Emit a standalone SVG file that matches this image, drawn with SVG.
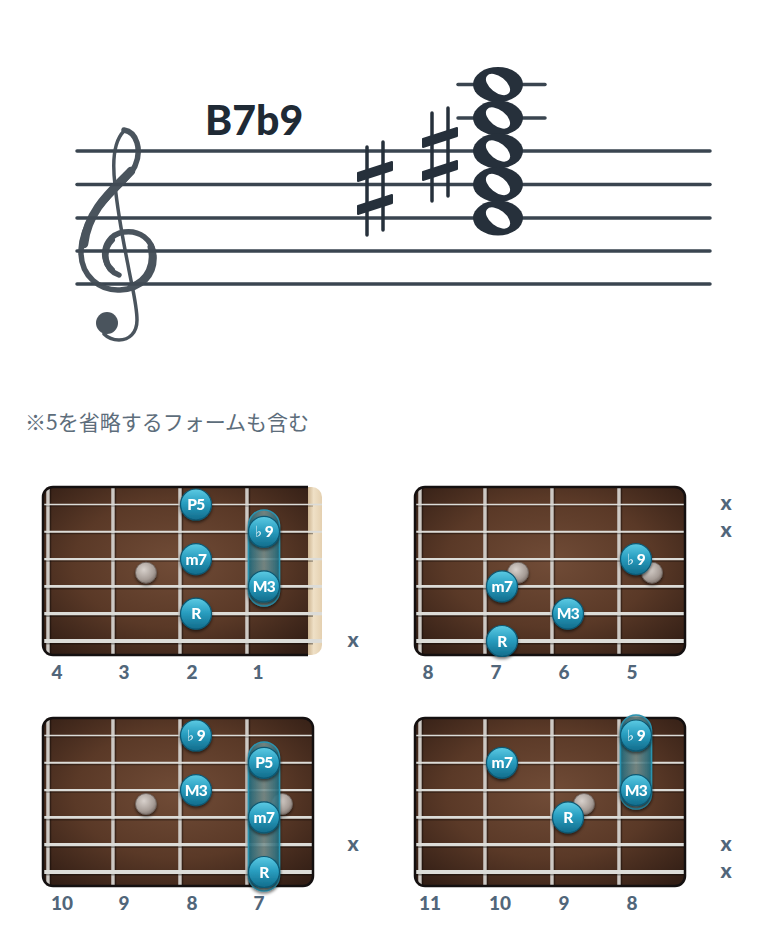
<svg xmlns="http://www.w3.org/2000/svg" width="780" height="952" viewBox="0 0 780 952">
<style>
.staff line{stroke:#3a4550;stroke-width:3.5;stroke-linecap:round}
.ink{fill:#26303b}
.clef{fill:none;stroke:#414b55;stroke-linecap:round}
.lbl{font-family:Lato,'DejaVu Sans',sans-serif;font-weight:900;font-size:19px;fill:#51667a;text-anchor:middle}
.mx{font-family:Lato,'DejaVu Sans',sans-serif;font-weight:900;font-size:21px;fill:#51667a;text-anchor:middle}
.nt{font-family:Lato,'DejaVu Sans',sans-serif;font-weight:900;font-size:15.5px;letter-spacing:-0.5px;fill:#fff;text-anchor:middle}
.fl{font-family:'DejaVu Sans',sans-serif;font-weight:normal;font-size:15px}
.fret{stroke:#cdc9c4;stroke-width:3.5}
.fsh{stroke:#000;stroke-opacity:.35;stroke-width:1.5}
.str{stroke:#dcdcd8}
.ssh{stroke:#000;stroke-opacity:.35}
.frame{fill:none;stroke:#141010;stroke-width:2.5}
.cap{fill:url(#capg);stroke:#2b93b0;stroke-width:1.5;filter:url(#sh)}
</style>
<defs>
<radialGradient id="wood" cx="50%" cy="45%" r="70%">
<stop offset="0" stop-color="#714c37"/>
<stop offset="0.55" stop-color="#5a3927"/>
<stop offset="1" stop-color="#321e15"/>
</radialGradient>
<linearGradient id="nut" x1="0" y1="0" x2="1" y2="0">
<stop offset="0" stop-color="#cdb592"/>
<stop offset="0.4" stop-color="#efe0c6"/>
<stop offset="1" stop-color="#e4d0b0"/>
</linearGradient>
<linearGradient id="ng" x1="0" y1="0" x2="0" y2="1">
<stop offset="0" stop-color="#5ccae3"/>
<stop offset="0.45" stop-color="#2a9fc1"/>
<stop offset="1" stop-color="#126c8b"/>
</linearGradient>
<radialGradient id="gg" cx="40%" cy="35%" r="70%">
<stop offset="0" stop-color="#d8d1cc"/>
<stop offset="0.7" stop-color="#a69c96"/>
<stop offset="1" stop-color="#7a6f69"/>
</radialGradient>
<linearGradient id="capg" x1="0" y1="0" x2="1" y2="0">
<stop offset="0" stop-color="#1f6a7d" stop-opacity="0.9"/>
<stop offset="0.5" stop-color="#7f9896" stop-opacity="0.75"/>
<stop offset="1" stop-color="#1f6a7d" stop-opacity="0.9"/>
</linearGradient>
<filter id="sh" x="-40%" y="-30%" width="180%" height="170%">
<feDropShadow dx="0" dy="2" stdDeviation="1.5" flood-color="#000" flood-opacity="0.55"/>
</filter>
<circle id="dot" r="15.5" fill="url(#ng)" stroke="#0c5873" stroke-width="1.2"/>
<circle id="inl" r="10.5" fill="url(#gg)" stroke="#6f6560" stroke-width="0.8"/>
<g id="frets">
<line class="fret" x1="5" y1="0" x2="5" y2="168"/>
<line class="fret" x1="70" y1="0" x2="70" y2="168"/>
<line class="fret" x1="137" y1="0" x2="137" y2="168"/>
<line class="fret" x1="204" y1="0" x2="204" y2="168"/>
<line class="fsh" x1="7.5" y1="0" x2="7.5" y2="168"/>
<line class="fsh" x1="72.5" y1="0" x2="72.5" y2="168"/>
<line class="fsh" x1="139.5" y1="0" x2="139.5" y2="168"/>
<line class="fsh" x1="206.5" y1="0" x2="206.5" y2="168"/>
</g>
<g id="strings270">
<g class="ssh">
<line x1="0" y1="19" x2="270" y2="19" stroke-width="1.2"/>
<line x1="0" y1="46.5" x2="270" y2="46.5" stroke-width="1.4"/>
<line x1="0" y1="74" x2="270" y2="74" stroke-width="1.6"/>
<line x1="0" y1="101.5" x2="270" y2="101.5" stroke-width="1.8"/>
<line x1="0" y1="129" x2="270" y2="129" stroke-width="2"/>
<line x1="0" y1="156.5" x2="270" y2="156.5" stroke-width="2.2"/>
</g>
<g class="str">
<line x1="0" y1="17.5" x2="270" y2="17.5" stroke-width="1.7"/>
<line x1="0" y1="44.8" x2="270" y2="44.8" stroke-width="2"/>
<line x1="0" y1="72.1" x2="270" y2="72.1" stroke-width="2.4"/>
<line x1="0" y1="99.4" x2="270" y2="99.4" stroke-width="2.9"/>
<line x1="0" y1="126.7" x2="270" y2="126.7" stroke-width="3.3"/>
<line x1="0" y1="154" x2="270" y2="154" stroke-width="3.8"/>
</g>
</g>
<g id="board">
<rect width="270" height="168" rx="10" fill="url(#wood)"/>
<use href="#frets"/>
<use href="#strings270"/>
<rect class="frame" width="270" height="168" rx="10"/>
</g>
</defs>

<rect width="780" height="952" fill="#ffffff"/>

<g id="staff" class="staff">
<line x1="77" y1="151" x2="710" y2="151"/>
<line x1="77" y1="184.5" x2="710" y2="184.5"/>
<line x1="77" y1="218" x2="710" y2="218"/>
<line x1="77" y1="251" x2="710" y2="251"/>
<line x1="77" y1="284" x2="710" y2="284"/>
<line x1="458" y1="84.5" x2="545" y2="84.5"/>
<line x1="458" y1="118" x2="545" y2="118"/>
</g>

<g id="clef" opacity="0.95">
<path class="clef" stroke-width="3.5" d="M124,131 C114,141 112,160 115,185 C118,215 124,245 128,265 C132,287 137,305 137,320 C137,333 129,340 119,340 C113,340 108,338 104,334"/>
<path class="clef" stroke-width="5.5" d="M124,130 C137,132 142,150 135,166 C125,187 83,208 81,250 C80,277 101,291 120,290 C142,289 155,275 154,256 C153,239 139,230 124,232 C110,234 103,246 105,258 C107,268 113,273 119,275"/>
<path class="clef" stroke-width="8.5" d="M131,171 C113,190 88,209 84,244"/>
<path class="clef" stroke-width="7" d="M151,247 C155,264 149,280 131,287"/>
<path class="clef" stroke-width="6" d="M112,240 C103,249 104,263 112,270"/>
<circle cx="107" cy="323" r="11" fill="#414b55"/>
</g>

<g id="sharps" class="ink">
<g id="sharp-1">
<line x1="367" y1="147" x2="367" y2="235" stroke="#26303b" stroke-width="3.5" stroke-linecap="round"/>
<line x1="383" y1="142" x2="383" y2="230" stroke="#26303b" stroke-width="3.5" stroke-linecap="round"/>
<polygon points="358,173 392,162 392,170 358,181" stroke="#26303b" stroke-width="2" stroke-linejoin="round"/>
<polygon points="358,206 392,195 392,203 358,214" stroke="#26303b" stroke-width="2" stroke-linejoin="round"/>
</g>
<g id="sharp-2" transform="translate(65,-34)">
<line x1="367" y1="147" x2="367" y2="235" stroke="#26303b" stroke-width="3.5" stroke-linecap="round"/>
<line x1="383" y1="142" x2="383" y2="230" stroke="#26303b" stroke-width="3.5" stroke-linecap="round"/>
<polygon points="358,173 392,162 392,170 358,181" stroke="#26303b" stroke-width="2" stroke-linejoin="round"/>
<polygon points="358,206 392,195 392,203 358,214" stroke="#26303b" stroke-width="2" stroke-linejoin="round"/>
</g>
</g>

<g id="chord-notes">
<g class="ink">
<ellipse cx="498" cy="84.5" rx="25" ry="17.5"/>
<ellipse cx="498" cy="118" rx="25" ry="17.5"/>
<ellipse cx="498" cy="151" rx="25" ry="17.5"/>
<ellipse cx="498" cy="184.5" rx="25" ry="17.5"/>
<ellipse cx="498" cy="218" rx="25" ry="17.5"/>
</g>
<g fill="#ffffff">
<ellipse cx="0" cy="0" rx="8" ry="14" transform="translate(498,84.5) rotate(-52)"/>
<ellipse cx="0" cy="0" rx="8" ry="14" transform="translate(498,118) rotate(-52)"/>
<ellipse cx="0" cy="0" rx="8" ry="14" transform="translate(498,151) rotate(-52)"/>
<ellipse cx="0" cy="0" rx="8" ry="14" transform="translate(498,184.5) rotate(-52)"/>
<ellipse cx="0" cy="0" rx="8" ry="14" transform="translate(498,218) rotate(-52)"/>
</g>
</g>

<g id="chord-name">
<text x="205" y="135" font-family="Lato,'DejaVu Sans',sans-serif" font-weight="900" font-size="41" fill="#1f2a35">B7b9</text>
</g>

<g id="caption">
<text x="25" y="430" font-family="'Noto Sans CJK JP',sans-serif" font-size="21" fill="#5d6d7b">※5を省略するフォームも含む</text>
</g>

<!-- Board 1 -->
<g id="board-1" transform="translate(43,487)">
<path d="M10,0 H265 V168 H10 A10,10 0 0 1 0,158 V10 A10,10 0 0 1 10,0 Z" fill="url(#wood)"/>
<path d="M265,0 H269 A10,10 0 0 1 279,10 V158 A10,10 0 0 1 269,168 H265 Z" fill="url(#nut)"/>
<use href="#frets"/>
<use href="#strings270"/>
<line x1="270" y1="17.5" x2="279" y2="17.5" class="str" stroke-width="1.7"/>
<line x1="270" y1="44.8" x2="279" y2="44.8" class="str" stroke-width="2"/>
<line x1="270" y1="72.1" x2="279" y2="72.1" class="str" stroke-width="2.4"/>
<line x1="270" y1="99.4" x2="279" y2="99.4" class="str" stroke-width="2.9"/>
<line x1="270" y1="126.7" x2="279" y2="126.7" class="str" stroke-width="3.3"/>
<line x1="270" y1="154" x2="279" y2="154" class="str" stroke-width="3.8"/>
<path class="frame" d="M10,0 H265 M265,168 H10 A10,10 0 0 1 0,158 V10 A10,10 0 0 1 10,0"/>
<use href="#inl" x="103" y="85.7" filter="url(#sh)"/>
<text class="mx" x="310" y="160">x</text>
<text class="lbl" x="14" y="192">4</text>
<text class="lbl" x="81" y="192">3</text>
<text class="lbl" x="149" y="192">2</text>
<text class="lbl" x="215" y="192">1</text>
</g>

<!-- Board 2 -->
<g id="board-2" transform="translate(415,487)">
<use href="#board"/>
<use href="#inl" x="103" y="85.7" filter="url(#sh)"/>
<use href="#inl" x="237" y="85.7" filter="url(#sh)"/>
<text class="mx" x="311" y="23">x</text>
<text class="mx" x="311" y="50">x</text>
<text class="lbl" x="13" y="192">8</text>
<text class="lbl" x="81" y="192">7</text>
<text class="lbl" x="149" y="192">6</text>
<text class="lbl" x="217" y="192">5</text>
</g>

<!-- Board 3 -->
<g id="board-3" transform="translate(43,718)">
<use href="#board"/>
<use href="#inl" x="103" y="86" filter="url(#sh)"/>
<use href="#inl" x="239" y="86" filter="url(#sh)"/>
<text class="mx" x="310" y="133">x</text>
<text class="lbl" x="19" y="192">10</text>
<text class="lbl" x="81" y="192">9</text>
<text class="lbl" x="149" y="192">8</text>
<text class="lbl" x="216" y="192">7</text>
</g>

<!-- Board 4 -->
<g id="board-4" transform="translate(415,718)">
<use href="#board"/>
<use href="#inl" x="169" y="86" filter="url(#sh)"/>
<text class="mx" x="311" y="133">x</text>
<text class="mx" x="311" y="160">x</text>
<text class="lbl" x="15" y="192">11</text>
<text class="lbl" x="85" y="192">10</text>
<text class="lbl" x="149" y="192">9</text>
<text class="lbl" x="217" y="192">8</text>
</g>

<g id="connectors">
<rect class="cap" x="248.5" y="510" width="31" height="96" rx="15.5"/>
<rect class="cap" x="248.5" y="742" width="31" height="149" rx="15.5"/>
<rect class="cap" x="620.5" y="715" width="31" height="94" rx="15.5"/>
</g>

<g id="notes" filter="url(#sh)">
<g id="b1-P5" transform="translate(196,504.5)"><use href="#dot"/><text class="nt" y="5.5">P5</text></g>
<g id="b1-b9" transform="translate(264,531.8)"><use href="#dot"/><text class="nt" y="5.5"><tspan class="fl">♭</tspan> 9</text></g>
<g id="b1-m7" transform="translate(196,559.1)"><use href="#dot"/><text class="nt" y="5.5">m7</text></g>
<g id="b1-M3" transform="translate(264,586.4)"><use href="#dot"/><text class="nt" y="5.5">M3</text></g>
<g id="b1-R" transform="translate(196,613.7)"><use href="#dot"/><text class="nt" y="5.5">R</text></g>

<g id="b2-b9" transform="translate(636,559.1)"><use href="#dot"/><text class="nt" y="5.5"><tspan class="fl">♭</tspan> 9</text></g>
<g id="b2-m7" transform="translate(502,586.4)"><use href="#dot"/><text class="nt" y="5.5">m7</text></g>
<g id="b2-M3" transform="translate(568,613.7)"><use href="#dot"/><text class="nt" y="5.5">M3</text></g>
<g id="b2-R" transform="translate(502,641)"><use href="#dot"/><text class="nt" y="5.5">R</text></g>

<g id="b3-b9" transform="translate(196,735.5)"><use href="#dot"/><text class="nt" y="5.5"><tspan class="fl">♭</tspan> 9</text></g>
<g id="b3-P5" transform="translate(264,762.8)"><use href="#dot"/><text class="nt" y="5.5">P5</text></g>
<g id="b3-M3" transform="translate(196,790.1)"><use href="#dot"/><text class="nt" y="5.5">M3</text></g>
<g id="b3-m7" transform="translate(264,817.4)"><use href="#dot"/><text class="nt" y="5.5">m7</text></g>
<g id="b3-R" transform="translate(264,872)"><use href="#dot"/><text class="nt" y="5.5">R</text></g>

<g id="b4-b9" transform="translate(636,735.5)"><use href="#dot"/><text class="nt" y="5.5"><tspan class="fl">♭</tspan> 9</text></g>
<g id="b4-m7" transform="translate(502,762.8)"><use href="#dot"/><text class="nt" y="5.5">m7</text></g>
<g id="b4-M3" transform="translate(636,790.1)"><use href="#dot"/><text class="nt" y="5.5">M3</text></g>
<g id="b4-R" transform="translate(568,817.4)"><use href="#dot"/><text class="nt" y="5.5">R</text></g>
</g>
</svg>
